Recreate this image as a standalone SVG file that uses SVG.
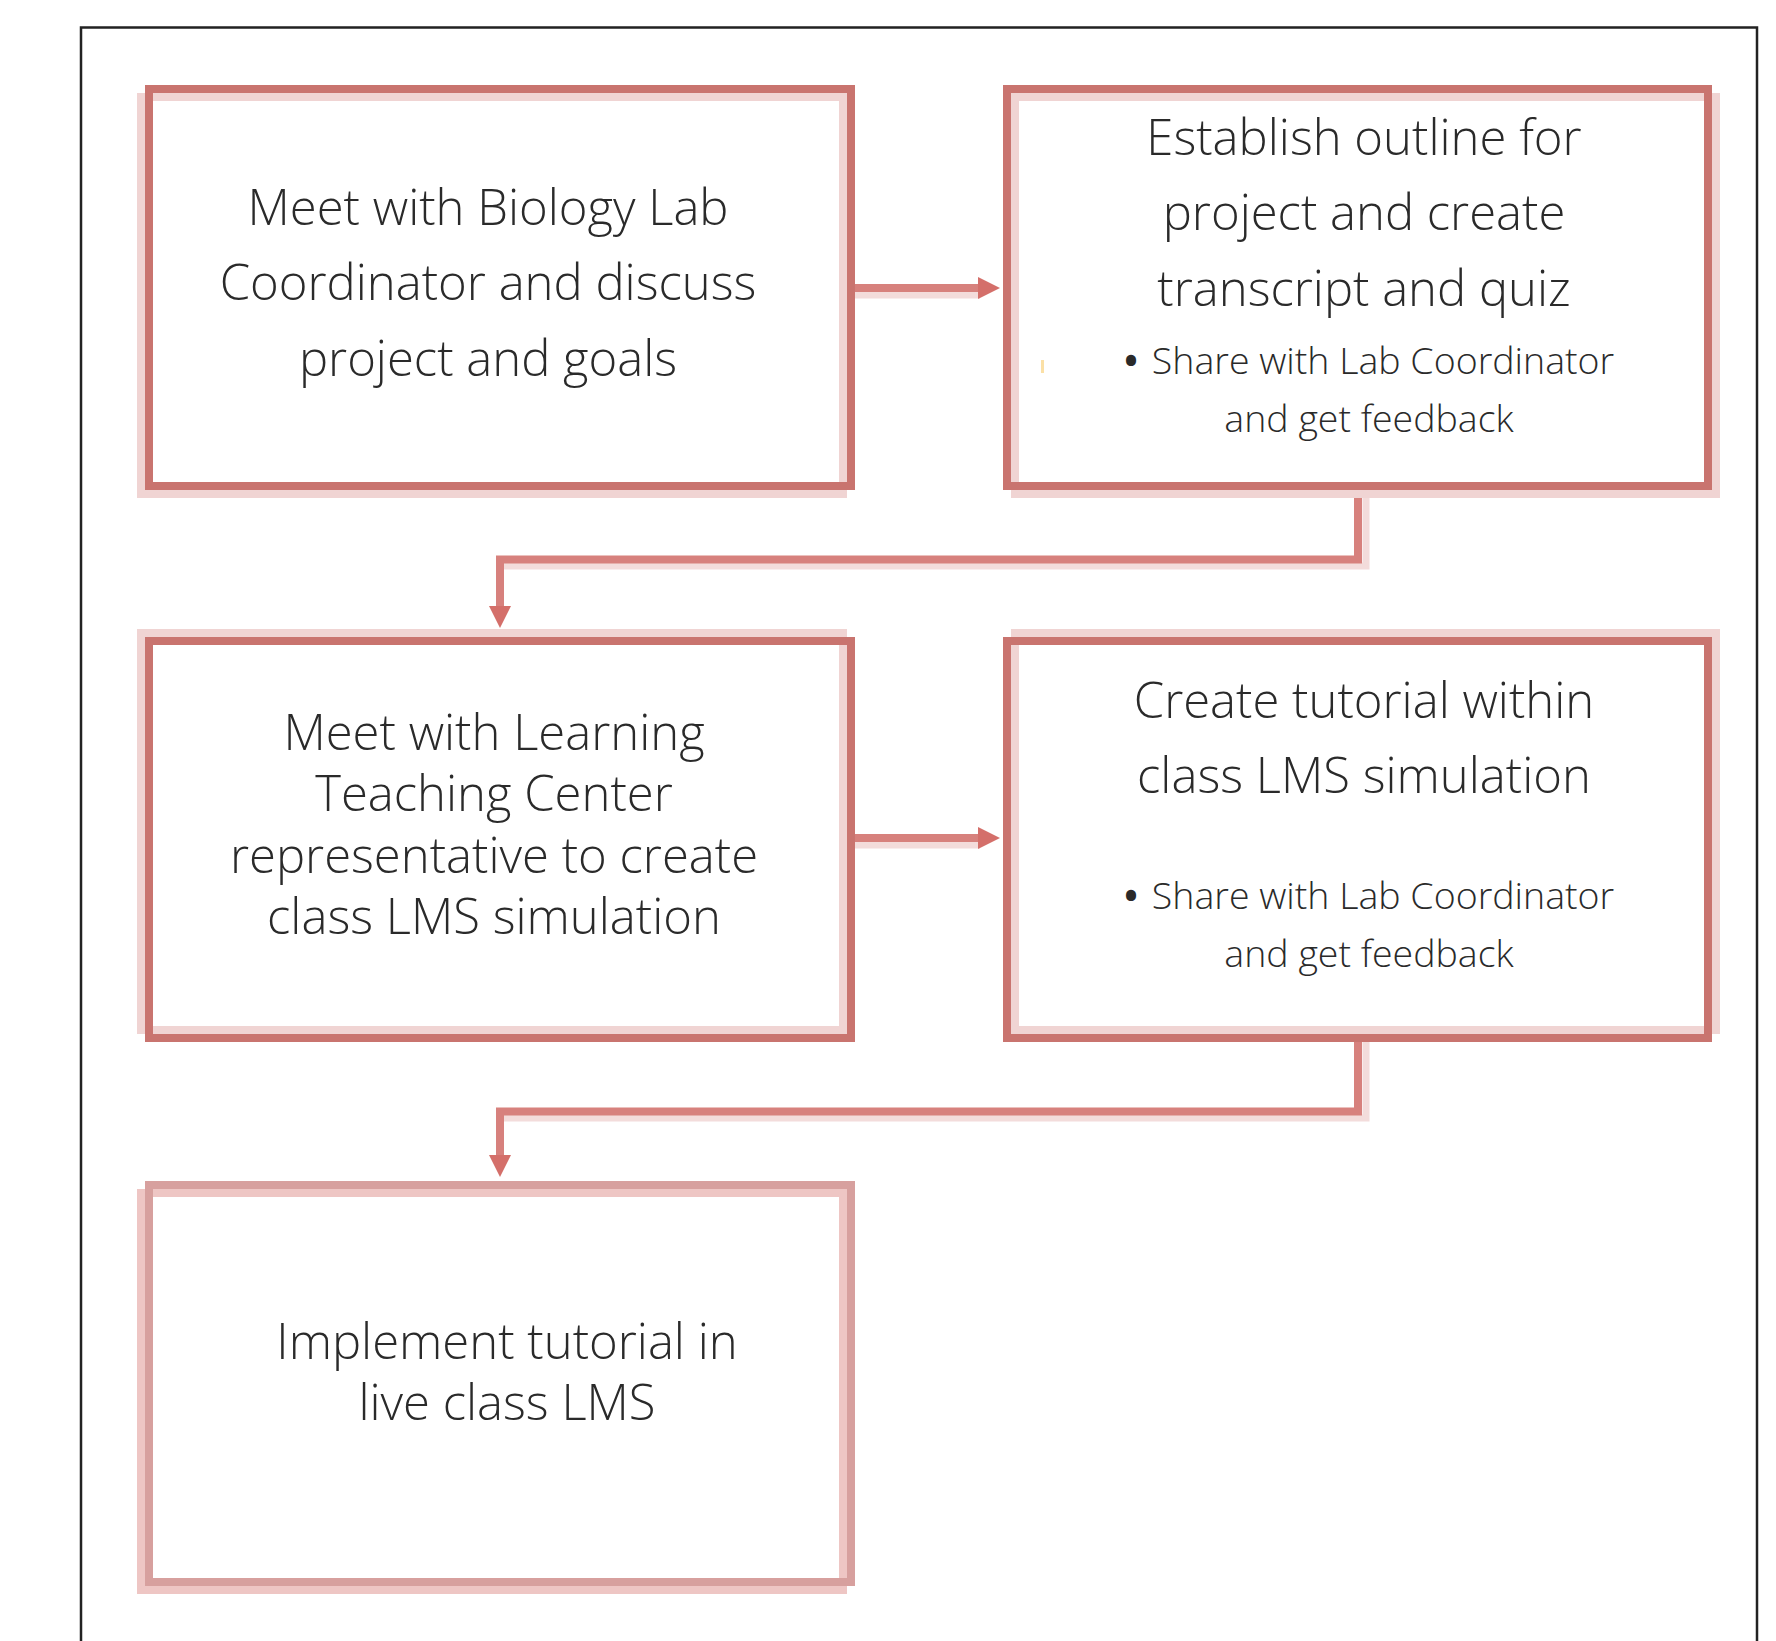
<svg xmlns="http://www.w3.org/2000/svg" width="1776" height="1641" viewBox="0 0 1776 1641">
<style>
.frame{fill:none;stroke:#222;stroke-width:2.5}
.dk{fill:none;stroke:#c9746f;stroke-width:8}
.pl{fill:none;stroke:#f0d4d3;stroke-width:8}
.dk3{fill:none;stroke:#d7a09e;stroke-width:8}
.pl3{fill:none;stroke:#eec6c4;stroke-width:8}
.con{fill:none;stroke:#d7817d;stroke-width:8}
.conp{fill:none;stroke:#f3dcdb;stroke-width:7}
.ah{fill:#d46f6a}
.t{font-family:"Open Sans",Lato,"Liberation Sans",sans-serif;font-weight:300;font-size:49px;fill:#2a2a2a;text-anchor:middle}
.b{font-family:"Open Sans",Lato,"Liberation Sans",sans-serif;font-weight:300;font-size:37.5px;fill:#2a2a2a;text-anchor:middle}
.bd{font-family:"Open Sans","Liberation Sans",sans-serif;font-weight:700;font-size:36px;fill:#2a2a2a;text-anchor:middle}
</style>
<rect width="1776" height="1641" fill="#fff"/>
<rect class="frame" x="81" y="27.5" width="1676" height="1700"/>
<g id="connectors">
  <line class="conp" x1="855" y1="295" x2="980" y2="295"/>
  <line class="con" x1="855" y1="288" x2="982" y2="288"/>
  <polygon class="ah" points="978,277 1000,288 978,299"/>
  <polyline class="conp" points="1366,490 1366,566 500,566"/>
  <polyline class="con" points="1358,490 1358,559.5 500,559.5 500,610"/>
  <polygon class="ah" points="489,606 500,628 511,606"/>
  <line class="conp" x1="855" y1="845" x2="980" y2="845"/>
  <line class="con" x1="855" y1="838" x2="982" y2="838"/>
  <polygon class="ah" points="978,827 1000,838 978,849"/>
  <polyline class="conp" points="1366,1041 1366,1118 500,1118"/>
  <polyline class="con" points="1358,1041 1358,1111.5 500,1111.5 500,1158"/>
  <polygon class="ah" points="489,1155 500,1177 511,1155"/>
</g>
<g id="node1">
  <rect class="pl" x="141" y="97" width="702" height="397"/>
  <rect class="dk" x="149" y="89" width="702" height="397"/>
  <text class="t" x="488" y="225">Meet with Biology Lab</text>
  <text class="t" x="488" y="300">Coordinator and discuss</text>
  <text class="t" x="488" y="376">project and goals</text>
</g>
<g id="node2">
  <rect class="pl" x="1015" y="97" width="701" height="397"/>
  <rect class="dk" x="1007" y="89" width="701" height="397"/>
  <text class="t" x="1364" y="155">Establish outline for</text>
  <text class="t" x="1364" y="230">project and create</text>
  <text class="t" x="1364" y="306">transcript and quiz</text>
  <rect x="1041" y="360" width="3" height="13" fill="#fbe0a6"/>
  <text class="bd" x="1131" y="374">•</text>
  <text class="b" x="1383" y="374">Share with Lab Coordinator</text>
  <text class="b" x="1369" y="432">and get feedback</text>
</g>
<g id="node3">
  <rect class="pl" x="141" y="633" width="702" height="397"/>
  <rect class="dk" x="149" y="641" width="702" height="397"/>
  <text class="t" x="494" y="750">Meet with Learning</text>
  <text class="t" x="494" y="811">Teaching Center</text>
  <text class="t" x="494" y="873">representative to create</text>
  <text class="t" x="494" y="934">class LMS simulation</text>
</g>
<g id="node4">
  <rect class="pl" x="1015" y="633" width="701" height="397"/>
  <rect class="dk" x="1007" y="641" width="701" height="397"/>
  <text class="t" x="1364" y="718">Create tutorial within</text>
  <text class="t" x="1364" y="793">class LMS simulation</text>
  <text class="bd" x="1131" y="909">•</text>
  <text class="b" x="1383" y="909">Share with Lab Coordinator</text>
  <text class="b" x="1369" y="967">and get feedback</text>
</g>
<g id="node5">
  <rect class="pl3" x="141" y="1193" width="702" height="397"/>
  <rect class="dk3" x="149" y="1185" width="702" height="397"/>
  <text class="t" x="507" y="1359">Implement tutorial in</text>
  <text class="t" x="507" y="1420">live class LMS</text>
</g>
</svg>
